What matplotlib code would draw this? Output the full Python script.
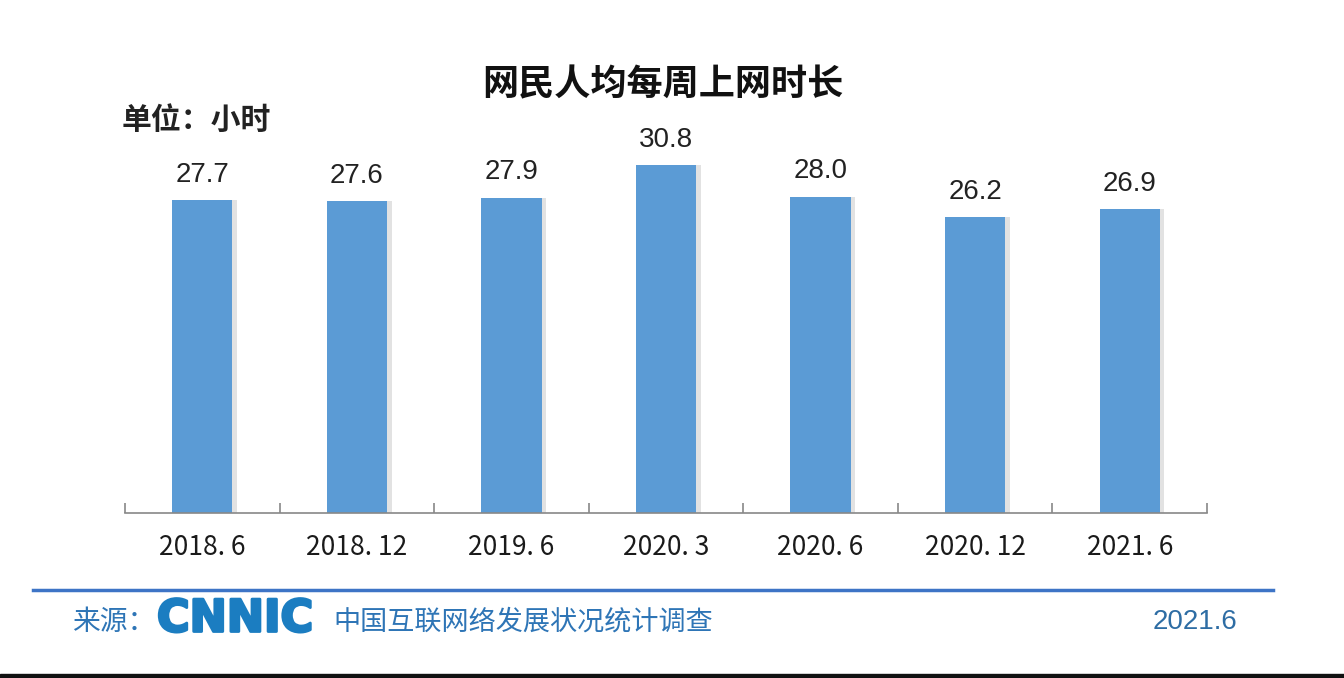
import matplotlib
matplotlib.use("Agg")
import matplotlib.pyplot as plt
import matplotlib.patheffects as pe
from matplotlib.patches import Rectangle
from matplotlib.lines import Line2D

categories = ["2018. 6", "2018. 12", "2019. 6", "2020. 3", "2020. 6", "2020. 12", "2021. 6"]
values = [27.7, 27.6, 27.9, 30.8, 28.0, 26.2, 26.9]
value_labels = ["27.7", "27.6", "27.9", "30.8", "28.0", "26.2", "26.9"]

title = "网民人均每周上网时长"
unit_text = "单位：小时"
source_prefix = "来源："
source_logo = "CNNIC"
source_name = "中国互联网络发展状况统计调查"
source_date = "2021.6"

CJK = ["Noto Sans CJK SC", "DejaVu Sans"]
W, H = 1344, 678
fig = plt.figure(figsize=(W / 100, H / 100), dpi=100)
fig.patch.set_facecolor("white")

left, right = 125 / W, 1207 / W
bottom = (H - 513) / H
ymax = 36.0
ppu = (513 - 165) / 30.8
height = ymax * ppu / H
ax = fig.add_axes([left, bottom, right - left, height])
ax.set_facecolor("none")

x = list(range(len(categories)))
# subtle shadow
ax.bar([i + 0.03 for i in x], values, width=0.39, color="#e2e2e2", zorder=1)
ax.bar(x, values, width=0.39, color="#5B9BD5", zorder=2)
for i, (v, lab) in enumerate(zip(values, value_labels)):
    ax.text(i, v + 1.1, lab, ha="center", va="bottom", fontsize=20,
            family="Liberation Sans", color="#222222")

ax.set_xlim(-0.5, len(categories) - 0.5)
ax.set_ylim(0, ymax)
for s in ["top", "right", "left"]:
    ax.spines[s].set_visible(False)
ax.spines["bottom"].set_color("#888888")
ax.spines["bottom"].set_linewidth(1.2)
ax.set_yticks([])
ax.set_xticks(x)
ax.set_xticklabels(categories, fontsize=19, family=CJK, color="#1a1a1a")
ax.tick_params(axis="x", which="major", length=0, pad=15)
ax.set_xticks([i - 0.5 for i in range(len(categories) + 1)], minor=True)
ax.tick_params(axis="x", which="minor", direction="in", length=7.5, width=1.2, color="#888888")

# title and unit
fig.text(663 / W, 1 - 85 / H, title, ha="center", va="center", fontsize=26,
         fontweight="bold", family=CJK, color="#111111")
fig.text(122 / W, 1 - 120 / H, unit_text, ha="left", va="center", fontsize=21.5,
         fontweight="bold", family=CJK, color="#222222")

# footer line
fig.add_artist(Line2D([33 / W, 1273 / W], [1 - 590 / H, 1 - 590 / H], color="#3D74C6", lw=2.5))
fig.text(72 / W, 1 - 622 / H, source_prefix, ha="left", va="center", fontsize=20,
         family=CJK, color="#2E75B6")
fig.text(157 / W, 1 - 619 / H, source_logo, ha="left", va="center", fontsize=32,
         fontweight="bold", family="DejaVu Sans", color="#1B7DC1",
         path_effects=[pe.withStroke(linewidth=2, foreground="#1B7DC1")])
fig.text(333 / W, 1 - 622 / H, source_name, ha="left", va="center", fontsize=19.5,
         family=CJK, color="#2E75B6")
fig.text(1153 / W, 1 - 622 / H, source_date, ha="left", va="center", fontsize=20,
         family="Liberation Sans", color="#2E6DA4")

# dark bottom border
fig.add_artist(Rectangle((0, 0), 1, 4 / H, transform=fig.transFigure, color="#111111"))

fig.savefig("out.png", dpi=100)
